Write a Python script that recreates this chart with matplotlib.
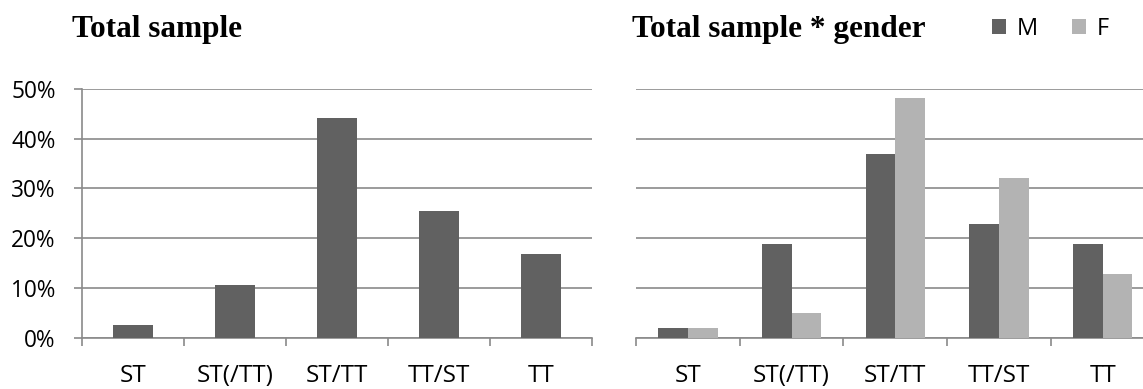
import numpy as np
import matplotlib
matplotlib.use("Agg")
import matplotlib.pyplot as plt

categories = ['ST', 'ST(/TT)', 'ST/TT', 'TT/ST', 'TT']
total = [2.5, 10.5, 44.2, 25.4, 16.9]
male = [2.0, 18.9, 36.9, 22.9, 18.9]
female = [2.0, 4.9, 48.1, 32.1, 12.9]

dark = '#616161'
light = '#b3b3b3'
grid_c = '#8a8a8a'
sans = 'Open Sans'
serif = 'Liberation Serif'

W, H = 1143, 389
fig = plt.figure(figsize=(W / 100, H / 100), dpi=100)

# axes positions in pixels (left, top, right, bottom)
ax1 = fig.add_axes([81.7 / W, 1 - 337.7 / H, 510.3 / W, 248.7 / H])
ax2 = fig.add_axes([636 / W, 1 - 337.7 / H, 518.5 / W, 248.7 / H])

x = np.arange(len(categories))


def style(ax):
    ax.set_xlim(-0.5, len(categories) - 0.5)
    ax.set_ylim(0, 50)
    ax.set_yticks(np.arange(0, 51, 10))
    ax.yaxis.grid(True, color=grid_c, linewidth=1.2)
    ax.set_axisbelow(True)
    for s in ['top', 'right']:
        ax.spines[s].set_visible(False)
    ax.spines['bottom'].set_color(grid_c)
    ax.spines['bottom'].set_linewidth(1.2)
    ax.spines['left'].set_color(grid_c)
    ax.spines['left'].set_linewidth(1.2)
    ax.set_xticks(x)
    ax.set_xticklabels(categories, fontsize=17.5, family=sans)
    ax.tick_params(axis='x', which='major', length=0, pad=19)
    ax.set_xticks(np.arange(-0.5, len(categories), 1.0), minor=True)
    ax.tick_params(axis='x', which='minor', length=5.5, width=1.2, color=grid_c, direction='out')
    ax.set_facecolor('none')


style(ax1)
ax1.bar(x, total, width=0.39, color=dark, zorder=3)
ax1.set_yticklabels([f'{v}%' for v in range(0, 51, 10)], fontsize=16.3, family=sans)
ax1.tick_params(axis='y', length=5.8, width=1.2, color=grid_c, pad=13)

style(ax2)
bw = 0.286
ax2.bar(x - bw / 2, male, width=bw, color=dark, label='M', zorder=3)
ax2.bar(x + bw / 2, female, width=bw, color=light, label='F', zorder=3)
ax2.spines['left'].set_visible(False)
ax2.tick_params(axis='y', length=0, labelleft=False)

fig.text(72 / W, 1 - 37.3 / H, 'Total sample', family=serif, fontweight='bold',
         fontsize=22.5, va='baseline', ha='left')
fig.text(632 / W, 1 - 37.3 / H, 'Total sample * gender', family=serif, fontweight='bold',
         fontsize=22.5, va='baseline', ha='left')

ax2.legend(ncol=2, frameon=False, loc='center left',
           bbox_to_anchor=(992 / W, 1 - 29 / H), bbox_transform=fig.transFigure,
           prop={'family': sans, 'size': 17}, handlelength=0.6, handleheight=0.6,
           handletextpad=0.45, columnspacing=1.45, borderpad=0, borderaxespad=0)

fig.savefig('out.png', dpi=100)
